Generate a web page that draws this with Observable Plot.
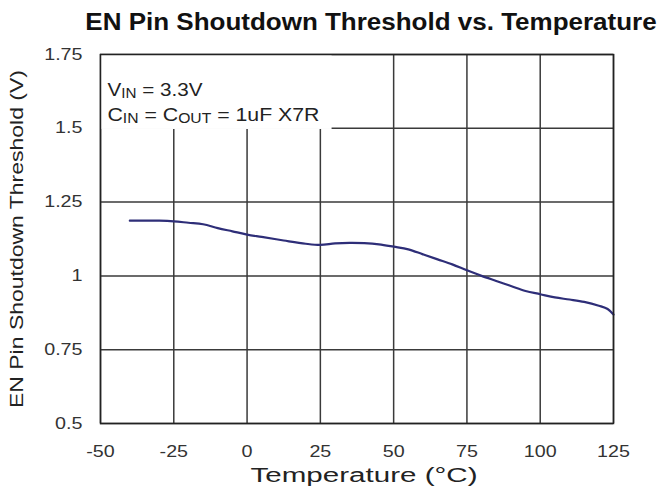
<!DOCTYPE html>
<html>
<head>
<meta charset="utf-8">
<script src="https://cdn.jsdelivr.net/npm/d3@7"></script>
<script src="https://cdn.jsdelivr.net/npm/@observablehq/plot@0.6"></script>
<style>
  html, body { margin: 0; padding: 0; background: #fff; }
  #wrap { position: relative; width: 662px; height: 494px; overflow: hidden; font-family: "Liberation Sans", Arial, sans-serif; }
  #title { position: relative; height: 40px; }
  #title span { position: absolute; left: 371px; top: 11px; font-size: 23px; font-weight: bold; line-height: 1; color: #111; white-space: nowrap; transform: translateX(-50%) scaleX(1.13); }
  svg { display: block; }
</style>
</head>
<body>
<div id="wrap">
  <div id="title"><span>EN Pin Shoutdown Threshold vs. Temperature</span></div>
</div>
<script>
// ---- data ----
const temps = [-40,-35,-30,-25,-20,-15,-10,-5,0,5,12.5,20,25,30,35,40,45,50,55,60,65,70,75,80,85,90,95,100,105,110,115,120,123,125];
const volts = [1.187,1.187,1.187,1.185,1.180,1.175,1.162,1.151,1.140,1.132,1.120,1.109,1.105,1.110,1.112,1.111,1.107,1.099,1.090,1.073,1.056,1.039,1.019,1.000,0.983,0.966,0.949,0.938,0.927,0.920,0.912,0.899,0.888,0.869];
const xTicks = [-50,-25,0,25,50,75,100,125];
const yTicks = [0.5,0.75,1,1.25,1.5,1.75];
const xLabel = "Temperature (°C)";
const yLabel = "EN Pin Shoutdown Threshold (V)";
const legendRows = [
  [["V",false],["IN",true],[" = 3.3V",false]],
  [["C",false],["IN",true],[" = C",false],["OUT",true],[" = 1uF X7R",false]]
];
const legendY = [1.608, 1.526];
const legendBox = [{x1: -50, x2: 29, y1: 1.496, y2: 1.75}];

const data = temps.map((t, i) => ({t, v: volts[i]}));
const legendData = legendRows.map((parts, i) => ({plain: parts.map(p => p[0]).join(""), y: legendY[i], parts}));

const font = "Liberation Sans, Arial, sans-serif";
const chart = Plot.plot({
  width: 662,
  height: 454,
  marginTop: 14,
  marginBottom: 71,
  marginLeft: 100,
  marginRight: 49,
  style: {fontFamily: font, fontSize: "16px", color: "#333", background: "white"},
  x: {domain: [-50, 125], ticks: xTicks, tickSize: 0, tickPadding: 22, label: null, tickFormat: d => String(d)},
  y: {domain: [0.5, 1.75], ticks: yTicks, tickSize: 0, tickPadding: 18, label: null, tickFormat: d => String(d)},
  marks: [
    Plot.ruleX(xTicks, {stroke: "#3a3a3a", strokeWidth: 1.5}),
    Plot.ruleY(yTicks, {stroke: "#3a3a3a", strokeWidth: 1.5}),
    Plot.rect(legendBox, {x1: "x1", x2: "x2", y1: "y1", y2: "y2", fill: "white"}),
    Plot.line(data, {x: "t", y: "v", stroke: "#2e2e78", strokeWidth: 2.2, curve: "catmull-rom"}),
    Plot.frame({stroke: "#222", strokeWidth: 1.5}),
    Plot.text(legendData, {x: () => -50, y: "y", text: "plain", textAnchor: "start", lineAnchor: "bottom", dx: 7, fontSize: 19, fill: "#222"}),
    Plot.text([xLabel], {frameAnchor: "bottom", dx: 7, dy: 58, fontSize: 20, fill: "#222"}),
    Plot.text([yLabel], {frameAnchor: "left", rotate: -90, dx: -84, fontSize: 19, fill: "#222"})
  ]
});
document.getElementById("wrap").appendChild(chart);

// ---- typography post-processing (rich legend text and wider lettering) ----
const NS = "http://www.w3.org/2000/svg";
const legendWidths = [95, 212];
function stretchTo(el, width) {
  el.setAttribute("text-anchor", "start");
  el.setAttribute("x", (-width / 2).toFixed(1));
  el.setAttribute("textLength", width);
  el.setAttribute("lengthAdjust", "spacingAndGlyphs");
}
chart.querySelectorAll("text").forEach(el => {
  const s = el.textContent;
  const li = legendData.findIndex(d => d.plain === s);
  if (li >= 0) {
    el.textContent = "";
    let shifted = false;
    legendData[li].parts.forEach(([str, sub]) => {
      const ts = document.createElementNS(NS, "tspan");
      ts.textContent = str;
      if (sub && !shifted) { ts.setAttribute("dy", "2"); shifted = true; }
      else if (!sub && shifted) { ts.setAttribute("dy", "-2"); shifted = false; }
      if (sub) ts.setAttribute("font-size", "14");
      el.appendChild(ts);
    });
    el.setAttribute("textLength", legendWidths[li]);
    el.setAttribute("lengthAdjust", "spacingAndGlyphs");
  } else if (s === xLabel) {
    stretchTo(el, 227);
  } else if (s === yLabel) {
    stretchTo(el, 338);
  } else {
    const len = el.getComputedTextLength();
    if (len > 0) {
      el.setAttribute("textLength", (len * 1.23).toFixed(1));
      el.setAttribute("lengthAdjust", "spacingAndGlyphs");
    }
  }
});
</script>
</body>
</html>
